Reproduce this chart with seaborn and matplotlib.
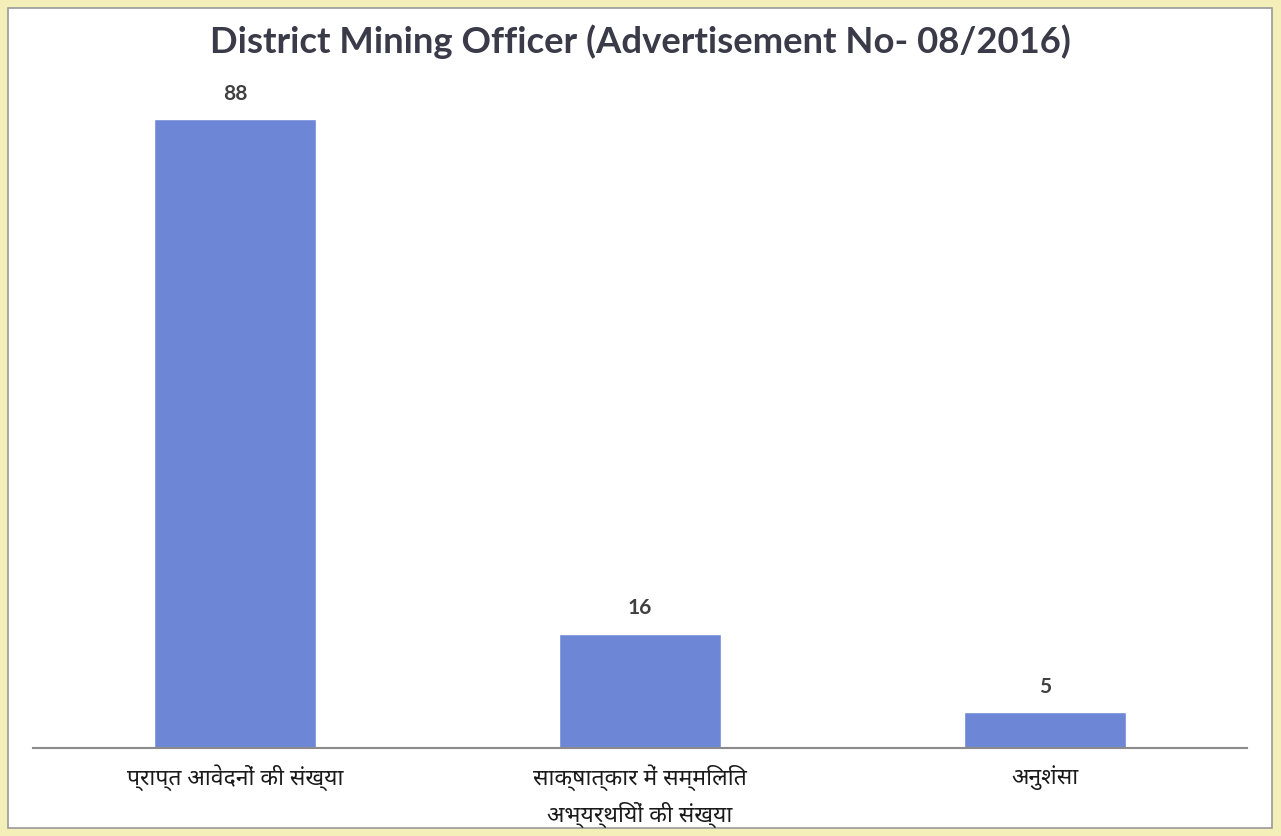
import matplotlib
matplotlib.use("Agg")
import matplotlib.pyplot as plt
import seaborn as sns
import pandas as pd
from matplotlib.patches import Rectangle

categories = ["प्राप्त आवेदनों की संख्या",
              "साक्षात्कार में सम्मिलित\nअभ्यर्थियों की संख्या",
              "अनुशंसा"]
values = [88, 16, 5]
title = "District Mining Officer (Advertisement No- 08/2016)"

sns.set_theme(style="white")
plt.rcParams['font.family'] = ['Lato', 'Noto Sans', 'DejaVu Sans']

df = pd.DataFrame({"cat": categories, "val": values})

fig = plt.figure(figsize=(12.81, 8.36), dpi=100)
fig.patch.set_facecolor("#f4efb8")
fig.patches.append(Rectangle((8/1281, 1-828/836), (1272-8)/1281, (828-8)/836,
                             transform=fig.transFigure, facecolor="white",
                             edgecolor="#9a9a9a", linewidth=1.2, zorder=-5))

ax = fig.add_axes([33/1281, 1-748/836, (1247-33)/1281, (748-105)/836])
ax.set_zorder(5)
ax.set_facecolor("none")
sns.barplot(data=df, x="cat", y="val", color="#6e86d6", width=0.4,
            saturation=1, ax=ax)
ax.set_xlim(-0.5, 2.5)
ax.set_ylim(0, 90)
ax.set_xlabel("")
ax.set_ylabel("")
ax.set_yticks([])
for s in ["top", "right", "left"]:
    ax.spines[s].set_visible(False)
ax.spines["bottom"].set_color("#8a8a8a")
ax.spines["bottom"].set_linewidth(1.5)
ax.tick_params(axis="x", length=0, pad=12, labelsize=16.5, colors="#1a1a1a")
for lbl in ax.get_xticklabels():
    lbl.set_linespacing(1.5)

for c in ax.containers:
    ax.bar_label(c, labels=[str(v) for v in values], padding=11,
                 fontsize=15, fontweight="bold", color="#404040")

fig.text(0.5, 1-42/836, title, ha="center", va="center", fontsize=26.3,
         fontweight="bold", color="#3a3a48", zorder=6)

fig.savefig("out.png", dpi=100, facecolor=fig.get_facecolor())
